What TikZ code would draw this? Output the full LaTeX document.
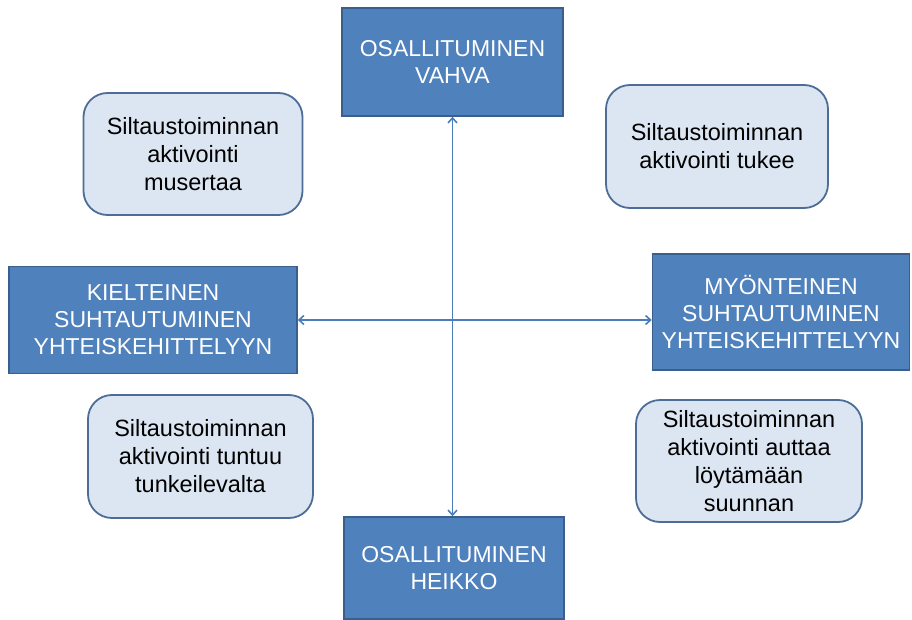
\documentclass[tikz,border=0pt]{standalone}
\usepackage{fontspec}
\setmainfont{Liberation Sans}
\usetikzlibrary{arrows.meta}
\definecolor{boxblue}{HTML}{4F81BD}
\definecolor{boxedge}{HTML}{3A5F8C}
\definecolor{softfill}{HTML}{DCE6F2}
\definecolor{softedge}{HTML}{4D6D96}
\definecolor{linkblue}{HTML}{4A7EBB}
\tikzset{
  bluebox/.style={draw=boxedge, line width=1.5pt, fill=boxblue, text=white, inner sep=0pt,
    align=center, font=\fontsize{23}{27}\selectfont},
  softbox/.style={draw=softedge, line width=1.8pt, fill=softfill, text=black, inner sep=0pt,
    rounded corners=24pt, align=center, font=\fontsize{23.5}{28}\selectfont},
  link/.style={draw=linkblue, line width=1.6pt, {Straight Barb[length=5pt,width=9pt]}-{Straight Barb[length=5pt,width=9pt]}}
}
\begin{document}
\begin{tikzpicture}[x=1pt,y=-1pt]
\useasboundingbox (0,0) rectangle (912,620);
\node[bluebox, minimum width=221pt, minimum height=108pt] (top) at (452.5,62) {OSALLITUMINEN\\VAHVA};
\node[bluebox, minimum width=220pt, minimum height=102pt] (bot) at (454,568) {OSALLITUMINEN\\HEIKKO};
\node[bluebox, minimum width=288pt, minimum height=107pt] (lft) at (153,320) {KIELTEINEN\\SUHTAUTUMINEN\\YHTEISKEHITTELYYN};
\node[bluebox, minimum width=257pt, minimum height=116pt] (rgt) at (781,312) {MYÖNTEINEN\\SUHTAUTUMINEN\\YHTEISKEHITTELYYN};
\node[softbox, minimum width=219pt, minimum height=122pt] (tl) at (193,154) {Siltaustoiminnan\\aktivointi\\musertaa};
\node[softbox, minimum width=222pt, minimum height=123pt] (tr) at (717,146.5) {Siltaustoiminnan\\aktivointi tukee};
\node[softbox, minimum width=225pt, minimum height=123pt] (bl) at (200.5,456.5) {Siltaustoiminnan\\aktivointi tuntuu\\tunkeilevalta};
\node[softbox, minimum width=226pt, minimum height=122pt] (br) at (749,461) {Siltaustoiminnan\\aktivointi auttaa\\löytämään\\suunnan};
\draw[link] (top.south) -- (top.south |- bot.north);
\draw[link] (lft.east) -- (lft.east -| rgt.west);
\end{tikzpicture}
\end{document}
